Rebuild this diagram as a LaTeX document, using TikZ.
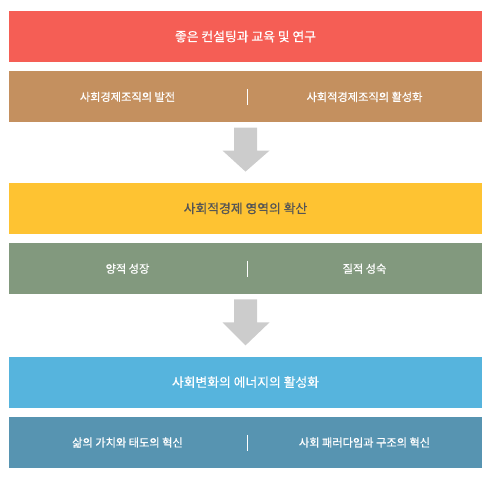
\documentclass[tikz,border=0pt]{standalone}
\usepackage{fontspec}
\setmainfont{Noto Sans CJK KR}[FakeBold=0.6]
\usepackage{xcolor}
\usetikzlibrary{positioning,calc}
\definecolor{coral}{HTML}{F55E55}
\definecolor{tan}{HTML}{C4905F}
\definecolor{amber}{HTML}{FEC332}
\definecolor{sage}{HTML}{82997E}
\definecolor{sky}{HTML}{56B4DD}
\definecolor{steel}{HTML}{5794B1}
\definecolor{arrowgray}{HTML}{CCCCCC}
\definecolor{darktext}{HTML}{555555}
\newcommand{\downarrowshape}[2]{%
  \fill[arrowgray] ($(#1.south)+(-11.5,-5)$) -- ($(#1.south)+(11.5,-5)$)
    -- ($(#1.south)+(11.5,-28)$) -- ($(#1.south)+(24,-28)$)
    -- ($(#2.north)+(0,11)$) -- ($(#1.south)+(-23,-28)$)
    -- ($(#1.south)+(-11.5,-28)$) -- cycle;}

\begin{document}
\begin{tikzpicture}[
  x=1pt, y=1pt,
  node distance=9pt,
  band/.style={inner sep=0pt, minimum width=473pt, minimum height=51pt,
               text=white, font=\fontsize{12.8}{15}\selectfont},
  subband/.style={band, font=\fontsize{11.2}{13}\selectfont},
  subtext/.style={inner sep=0pt, text=white, font=\fontsize{11.2}{13}\selectfont},
  divider/.style={draw=white, line width=1pt}
]
  \useasboundingbox (0,0) rectangle (497,-476);

  % first block
  \node[band, fill=coral] (consult) at (245.5,-36.5) {좋은 컨설팅과 교육 및 연구};
  \node[subband, fill=tan, below=of consult] (org) {};
  \node[subtext] (orgL) at ([xshift=-118pt]org.center) {사회경제조직의 발전};
  \node[subtext] (orgR) at ([xshift=119pt]org.center) {사회적경제조직의 활성화};
  \draw[divider] ([xshift=1.5pt,yshift=8pt]org.center) -- ([xshift=1.5pt,yshift=-8pt]org.center);

  % second block
  \node[band, fill=amber, text=darktext, below=60pt of org] (spread) {사회적경제 영역의 확산};
  \node[subband, fill=sage, below=of spread] (growth) {};
  \node[subtext] (growthL) at ([xshift=-118pt]growth.center) {양적 성장};
  \node[subtext] (growthR) at ([xshift=119pt]growth.center) {질적 성숙};
  \draw[divider] ([xshift=1.5pt,yshift=8pt]growth.center) -- ([xshift=1.5pt,yshift=-8pt]growth.center);

  % third block
  \node[band, fill=sky, below=62pt of growth] (energy) {사회변화의 에너지의 활성화};
  \node[subband, fill=steel, below=of energy] (innov) {};
  \node[subtext] (innovL) at ([xshift=-118pt]innov.center) {삶의 가치와 태도의 혁신};
  \node[subtext] (innovR) at ([xshift=119pt]innov.center) {사회 패러다임과 구조의 혁신};
  \draw[divider] ([xshift=1.5pt,yshift=8pt]innov.center) -- ([xshift=1.5pt,yshift=-8pt]innov.center);

  % arrows
  \downarrowshape{org}{spread}
  \downarrowshape{growth}{energy}
\end{tikzpicture}
\end{document}
